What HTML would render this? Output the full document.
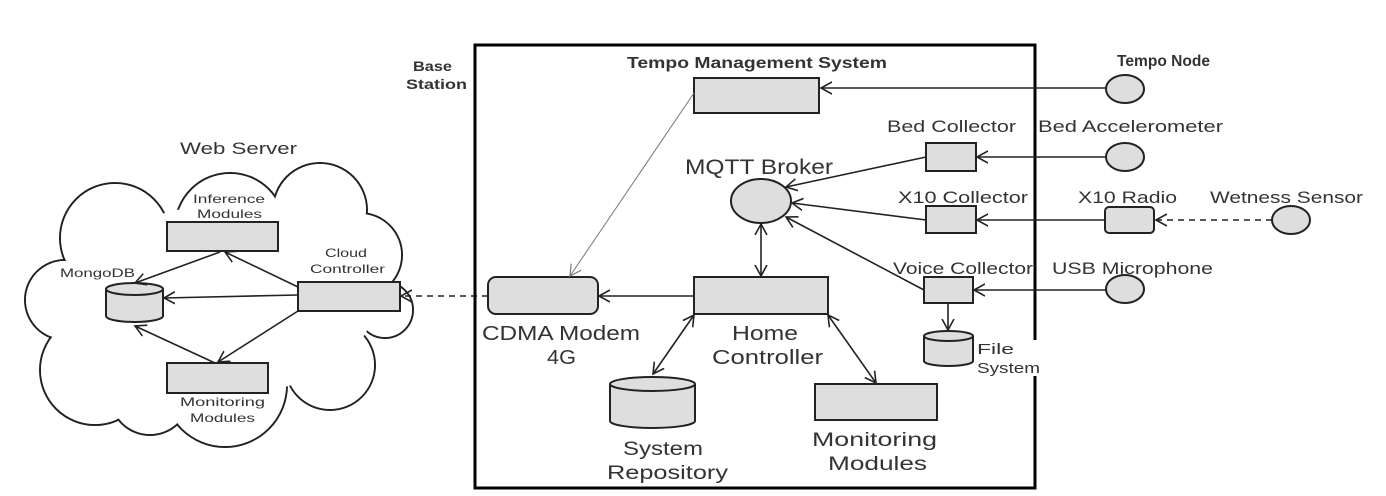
<!DOCTYPE html>
<html><head><meta charset="utf-8"><style>
html,body{margin:0;padding:0;background:#fff}
svg{display:block}
text{font-family:"Liberation Sans",sans-serif;fill:#333}
.b{fill:#dedede;stroke:#222;stroke-width:2}
.l{stroke:#222;stroke-width:1.6;fill:none}
</style></head><body>
<svg width="1386" height="496" viewBox="0 0 1386 496" xmlns="http://www.w3.org/2000/svg">
<defs>
<marker id="a" markerUnits="userSpaceOnUse" markerWidth="14" markerHeight="14" refX="11" refY="6" orient="auto-start-reverse" viewBox="0 0 14 12">
<path d="M0,0 L11,6 L0,12" fill="none" stroke="#222" stroke-width="1.6"/></marker>
<marker id="g" markerUnits="userSpaceOnUse" markerWidth="14" markerHeight="14" refX="11" refY="6" orient="auto" viewBox="0 0 14 12">
<path d="M0,0 L11,6 L0,12" fill="none" stroke="#777" stroke-width="1.2"/></marker>
</defs>

<!-- cloud -->
<g fill="#fff" stroke="#222" stroke-width="2">
<circle cx="230" cy="228" r="55"/><circle cx="320" cy="210" r="47"/><circle cx="360" cy="255" r="42"/>
<circle cx="385" cy="310" r="28"/><circle cx="330" cy="365" r="45"/><circle cx="115" cy="238" r="55"/>
<circle cx="65" cy="300" r="40"/><circle cx="95" cy="370" r="55"/><circle cx="225" cy="385" r="62"/>
<circle cx="150" cy="395" r="40"/>
</g>
<g fill="#fff">
<circle cx="230" cy="228" r="54"/><circle cx="320" cy="210" r="46"/><circle cx="360" cy="255" r="41"/>
<circle cx="385" cy="310" r="27"/><circle cx="330" cy="365" r="44"/><circle cx="115" cy="238" r="54"/>
<circle cx="65" cy="300" r="39"/><circle cx="95" cy="370" r="54"/><circle cx="225" cy="385" r="61"/>
<circle cx="150" cy="395" r="39"/><ellipse cx="225" cy="300" rx="150" ry="95"/>
</g>

<text x="180" y="154" font-size="17" textLength="117" lengthAdjust="spacingAndGlyphs">Web Server</text>
<text x="193" y="203" font-size="12" textLength="72" lengthAdjust="spacingAndGlyphs">Inference</text>
<text x="197" y="218" font-size="12" textLength="65" lengthAdjust="spacingAndGlyphs">Modules</text>
<rect class="b" x="167" y="222" width="111" height="29"/>
<text x="60" y="277" font-size="12" textLength="75" lengthAdjust="spacingAndGlyphs">MongoDB</text>
<path class="b" d="M106,289 L106,316 A28.5,6 0 0 0 163,316 L163,289"/>
<ellipse class="b" cx="134.5" cy="289" rx="28.5" ry="6" fill="#eee"/>
<text x="325" y="257" font-size="12" textLength="42" lengthAdjust="spacingAndGlyphs">Cloud</text>
<text x="310" y="273" font-size="12" textLength="75" lengthAdjust="spacingAndGlyphs">Controller</text>
<rect class="b" x="298" y="282" width="102" height="29"/>
<rect class="b" x="167" y="363" width="101" height="30"/>
<text x="180" y="406" font-size="12" textLength="85" lengthAdjust="spacingAndGlyphs">Monitoring</text>
<text x="190" y="422" font-size="12" textLength="65" lengthAdjust="spacingAndGlyphs">Modules</text>

<line class="l" x1="298" y1="295" x2="164" y2="298" marker-end="url(#a)"/>
<line class="l" x1="298" y1="287" x2="225" y2="252" marker-end="url(#a)"/>
<line class="l" x1="298" y1="311" x2="218" y2="362" marker-end="url(#a)"/>
<line class="l" x1="220" y1="252" x2="135" y2="283" marker-end="url(#a)"/>
<line class="l" x1="215" y1="363" x2="135" y2="326" marker-end="url(#a)"/>
<line class="l" x1="488" y1="296" x2="401" y2="296" stroke-dasharray="6,5" marker-end="url(#a)"/>

<!-- base station -->
<rect x="475" y="45" width="560" height="443" fill="none" stroke="#000" stroke-width="3"/>
<text x="413" y="71" font-size="14" font-weight="bold" textLength="39" lengthAdjust="spacingAndGlyphs">Base</text>
<text x="406" y="89" font-size="14" font-weight="bold" textLength="61" lengthAdjust="spacingAndGlyphs">Station</text>

<text x="627" y="68" font-size="16" font-weight="bold" textLength="260" lengthAdjust="spacingAndGlyphs">Tempo Management System</text>
<rect class="b" x="694" y="78" width="125" height="35"/>
<text x="685" y="174" font-size="21" textLength="148" lengthAdjust="spacingAndGlyphs">MQTT Broker</text>
<ellipse class="b" cx="761" cy="201" rx="30" ry="22"/>
<text x="887" y="132" font-size="17" textLength="129" lengthAdjust="spacingAndGlyphs">Bed Collector</text>
<rect class="b" x="926" y="143" width="50" height="28"/>
<text x="898" y="203" font-size="17" textLength="130" lengthAdjust="spacingAndGlyphs">X10 Collector</text>
<rect class="b" x="926" y="206" width="50" height="27"/>
<text x="893" y="274" font-size="17" textLength="140" lengthAdjust="spacingAndGlyphs">Voice Collector</text>
<rect class="b" x="924" y="277" width="49" height="26"/>
<path class="b" d="M924,336 L924,361 A24.5,5 0 0 0 973,361 L973,336"/>
<ellipse class="b" cx="948.5" cy="336" rx="24.5" ry="5" fill="#eee"/>
<rect x="975" y="340" width="68" height="36" fill="#fff"/>
<text x="977" y="354" font-size="15" textLength="37" lengthAdjust="spacingAndGlyphs">File</text>
<text x="977" y="373" font-size="15" textLength="63" lengthAdjust="spacingAndGlyphs">System</text>

<rect class="b" x="488" y="277" width="110" height="37" rx="8"/>
<text x="482" y="340" font-size="20" textLength="158" lengthAdjust="spacingAndGlyphs">CDMA Modem</text>
<text x="547" y="364" font-size="20" textLength="29" lengthAdjust="spacingAndGlyphs">4G</text>
<rect class="b" x="694" y="277" width="134" height="37"/>
<text x="732" y="340" font-size="20" textLength="66" lengthAdjust="spacingAndGlyphs">Home</text>
<text x="712" y="364" font-size="20" textLength="111" lengthAdjust="spacingAndGlyphs">Controller</text>
<path class="b" d="M610,384 L610,421 A42.5,7 0 0 0 695,421 L695,384"/>
<ellipse class="b" cx="652.5" cy="384" rx="42.5" ry="7" fill="#eee"/>
<text x="623" y="455" font-size="19" textLength="80" lengthAdjust="spacingAndGlyphs">System</text>
<text x="607" y="479" font-size="19" textLength="121" lengthAdjust="spacingAndGlyphs">Repository</text>
<rect class="b" x="815" y="384" width="122" height="36"/>
<text x="812" y="446" font-size="19" textLength="125" lengthAdjust="spacingAndGlyphs">Monitoring</text>
<text x="828" y="470" font-size="19" textLength="99" lengthAdjust="spacingAndGlyphs">Modules</text>

<!-- right side nodes -->
<text x="1117" y="66" font-size="16" font-weight="bold" textLength="93" lengthAdjust="spacingAndGlyphs">Tempo Node</text>
<ellipse class="b" cx="1125" cy="89" rx="19" ry="14"/>
<text x="1038" y="132" font-size="17" textLength="185" lengthAdjust="spacingAndGlyphs">Bed Accelerometer</text>
<ellipse class="b" cx="1125" cy="157" rx="19" ry="14"/>
<text x="1078" y="203" font-size="17" textLength="99" lengthAdjust="spacingAndGlyphs">X10 Radio</text>
<rect class="b" x="1105" y="207" width="49" height="26" rx="4"/>
<text x="1210" y="203" font-size="17" textLength="153" lengthAdjust="spacingAndGlyphs">Wetness Sensor</text>
<ellipse class="b" cx="1291" cy="220" rx="19" ry="14"/>
<text x="1052" y="274" font-size="17" textLength="161" lengthAdjust="spacingAndGlyphs">USB Microphone</text>
<ellipse class="b" cx="1125" cy="289" rx="19" ry="14"/>

<line class="l" x1="1106" y1="88" x2="821" y2="88" marker-end="url(#a)"/>
<line x1="694" y1="93" x2="570" y2="276" stroke="#777" stroke-width="1" marker-end="url(#g)"/>
<line class="l" x1="1106" y1="157" x2="977" y2="157" marker-end="url(#a)"/>
<line class="l" x1="926" y1="157" x2="786" y2="187" marker-end="url(#a)"/>
<line class="l" x1="1105" y1="220" x2="977" y2="220" marker-end="url(#a)"/>
<line class="l" x1="1272" y1="220" x2="1156" y2="220" stroke-dasharray="6,5" marker-end="url(#a)"/>
<line class="l" x1="926" y1="220" x2="792" y2="203" marker-end="url(#a)"/>
<line class="l" x1="924" y1="290" x2="786" y2="217" marker-end="url(#a)"/>
<line class="l" x1="1106" y1="290" x2="974" y2="290" marker-end="url(#a)"/>
<line class="l" x1="948" y1="303" x2="948" y2="330" marker-end="url(#a)"/>
<line class="l" x1="761" y1="224" x2="761" y2="276" marker-start="url(#a)" marker-end="url(#a)"/>
<line class="l" x1="694" y1="296" x2="599" y2="296" marker-end="url(#a)"/>
<line class="l" x1="694" y1="315" x2="653" y2="374" marker-start="url(#a)" marker-end="url(#a)"/>
<line class="l" x1="828" y1="315" x2="876" y2="383" marker-start="url(#a)" marker-end="url(#a)"/>
</svg>
</body></html>
